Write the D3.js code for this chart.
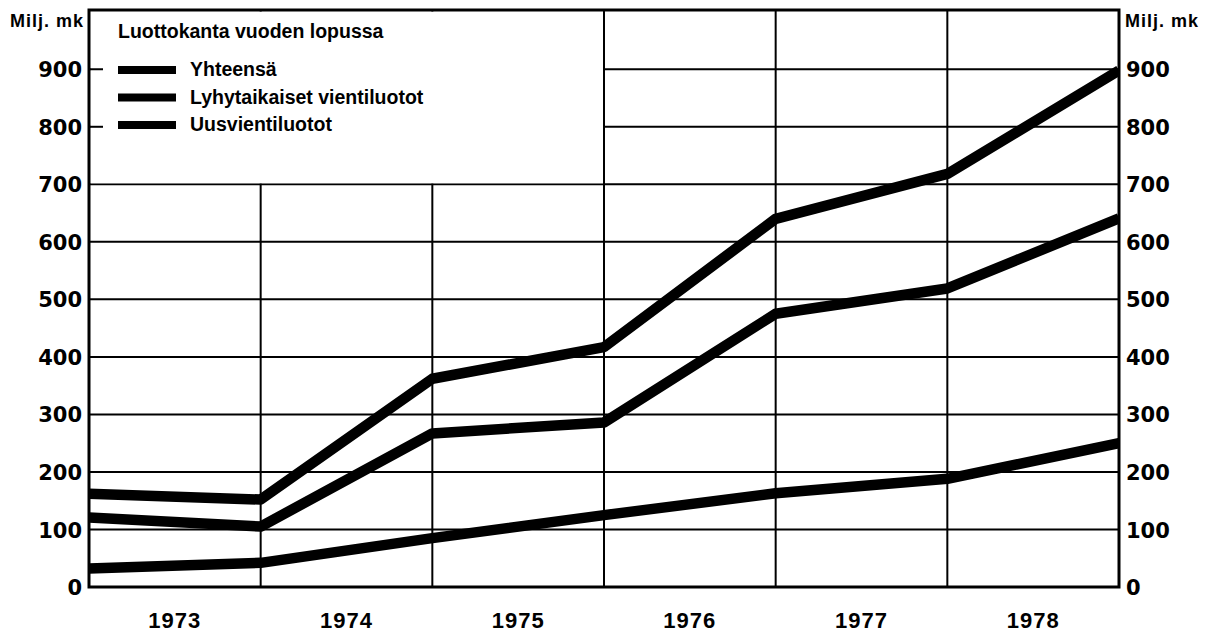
<!DOCTYPE html>
<html>
<head>
<meta charset="utf-8">
<script src="https://cdn.jsdelivr.net/npm/d3@7"></script>
<style>
  body { margin: 0; background: #fff; }
  text { font-family: "Liberation Sans", Arial, sans-serif; font-weight: bold; fill: #000; }
</style>
</head>
<body>
<div id="chart"></div>
<script>
// data (end of year stock, Milj. mk)
var years = [1972, 1973, 1974, 1975, 1976, 1977, 1978];
var yhteensa = [162, 152, 362, 417, 640, 718, 898];
var lyhytaikaiset = [121, 105, 267, 286, 475, 519, 641];
var uusvienti = [32, 42, 85, 125, 163, 188, 250];
var yearLabels = ["1973", "1974", "1975", "1976", "1977", "1978"];
var yTicks = [0, 100, 200, 300, 400, 500, 600, 700, 800, 900];
var seriesNames = ["Yhteensä", "Lyhytaikaiset vientiluotot", "Uusvientiluotot"];

var width = 1212, height = 633;
var margin = {top: 10, right: 93, bottom: 46, left: 89};
var innerW = width - margin.left - margin.right,
    innerH = height - margin.top - margin.bottom;

var svg = d3.select("#chart").append("svg")
    .attr("width", width)
    .attr("height", height);

var g = svg.append("g")
    .attr("transform", "translate(" + margin.left + "," + margin.top + ")");

var x = d3.scaleLinear().domain([1972, 1978]).range([0, innerW]);
var y = d3.scaleLinear().domain([0, 1003]).range([innerH, 0]);

// horizontal grid
g.append("g")
    .selectAll("line")
    .data(yTicks.slice(1))
    .enter().append("line")
    .attr("x1", 0).attr("x2", innerW)
    .attr("y1", function(d) { return y(d); })
    .attr("y2", function(d) { return y(d); })
    .style("stroke", "#000")
    .style("stroke-width", 2);

// vertical grid at year boundaries
g.append("g")
    .selectAll("line")
    .data(years.slice(1, -1))
    .enter().append("line")
    .attr("x1", function(d) { return x(d); })
    .attr("x2", function(d) { return x(d); })
    .attr("y1", 0).attr("y2", innerH)
    .style("stroke", "#000")
    .style("stroke-width", 2);

// legend box covers upper-left grid
var boxBottom = y(700);
g.append("rect")
    .attr("x", 1.5).attr("y", 1.5)
    .attr("width", x(1975) - 2.5)
    .attr("height", boxBottom - 2.5)
    .style("fill", "#fff");

// small inner ticks on left inside legend area
g.append("g")
    .selectAll("line")
    .data([800, 900])
    .enter().append("line")
    .attr("x1", 0).attr("x2", 14)
    .attr("y1", function(d) { return y(d); })
    .attr("y2", function(d) { return y(d); })
    .style("stroke", "#000")
    .style("stroke-width", 2);

// lines
var line = d3.line()
    .x(function(d, i) { return x(years[i]); })
    .y(function(d) { return y(d); });

g.append("clipPath").attr("id", "clip")
    .append("rect").attr("width", innerW).attr("height", innerH);

[yhteensa, lyhytaikaiset, uusvienti].forEach(function(s) {
    g.append("path")
        .datum(s)
        .attr("d", line)
        .attr("clip-path", "url(#clip)")
        .style("fill", "none")
        .style("stroke", "#000")
        .style("stroke-width", 10.5)
        .style("stroke-linejoin", "round");
});

// frame
g.append("rect")
    .attr("width", innerW).attr("height", innerH)
    .style("fill", "none")
    .style("stroke", "#000")
    .style("stroke-width", 3);

// y axes (labels only)
var axL = g.append("g").call(d3.axisLeft(y).tickValues(yTicks).tickSize(0).tickPadding(7));
var axR = g.append("g").attr("transform", "translate(" + innerW + ",0)")
    .call(d3.axisRight(y).tickValues(yTicks).tickSize(0).tickPadding(7));
[axL, axR].forEach(function(a) {
    a.select(".domain").remove();
    a.selectAll("text")
        .style("font-family", "'DejaVu Sans', sans-serif")
        .style("font-weight", "bold")
        .style("font-size", "21px")
        .attr("dy", "0.36em");
});

// x labels centred in each year column
var xa = g.append("g").attr("transform", "translate(0," + innerH + ")")
    .call(d3.axisBottom(d3.scaleBand().domain(yearLabels).range([0, innerW]))
        .tickSize(0).tickPadding(25));
xa.select(".domain").remove();
xa.selectAll("text")
    .style("font-family", "'Liberation Sans', Arial, sans-serif")
    .style("font-weight", "bold")
    .style("font-size", "22px")
    .style("letter-spacing", "1px");

// unit labels
svg.append("text").attr("x", 84).attr("y", 27).attr("text-anchor", "end")
    .style("font-size", "18px").style("letter-spacing", "1px").text("Milj. mk");
svg.append("text").attr("x", 1125).attr("y", 27)
    .style("font-size", "18px").style("letter-spacing", "1px").text("Milj. mk");

// legend
svg.append("text").attr("x", 118).attr("y", 38)
    .style("font-size", "19.5px")
    .text("Luottokanta vuoden lopussa");

var leg = svg.append("g").selectAll("g")
    .data(seriesNames)
    .enter().append("g")
    .attr("transform", function(d, i) { return "translate(118," + (76 + i * 27.5) + ")"; });
leg.append("rect")
    .attr("x", 0).attr("y", -10)
    .attr("width", 58).attr("height", 8)
    .style("fill", "#000");
leg.append("text")
    .attr("x", 72).attr("y", 0)
    .style("font-size", "19.5px")
    .text(function(d) { return d; });
</script>
</body>
</html>
